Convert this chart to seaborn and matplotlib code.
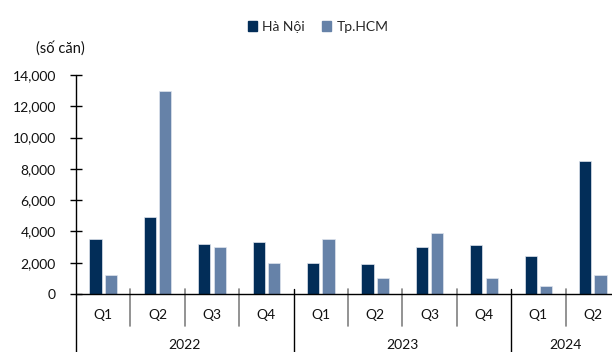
import matplotlib
matplotlib.use("Agg")
import matplotlib.pyplot as plt
import seaborn as sns
import pandas as pd
from matplotlib.lines import Line2D
from matplotlib.ticker import FuncFormatter

# Quarterly counts of units (số căn), 2022 Q1 – 2024 Q2
years = ["2022", "2023", "2024"]
quarters_per_year = [4, 4, 2]
quarters = ["Q1", "Q2", "Q3", "Q4", "Q1", "Q2", "Q3", "Q4", "Q1", "Q2"]
ha_noi = [3500, 4950, 3200, 3300, 2000, 1900, 3000, 3150, 2400, 8500]
tp_hcm = [1200, 13000, 3000, 2000, 3500, 1000, 3900, 1000, 500, 1200]
series_names = ["Hà Nội", "Tp.HCM"]
y_ticks = [0, 2000, 4000, 6000, 8000, 10000, 12000, 14000]

sns.set_style("white")
plt.rcParams["font.family"] = ["Lato", "DejaVu Sans"]

periods = [f"{i}" for i in range(len(quarters))]
df = pd.DataFrame({
    "period": periods * 2,
    "value": ha_noi + tp_hcm,
    "city": [series_names[0]] * len(periods) + [series_names[1]] * len(periods),
})

palette = {series_names[0]: "#022D58", series_names[1]: "#6682A8"}

fig = plt.figure(figsize=(6.12, 3.52), dpi=100)
ax = fig.add_axes([76 / 612, 1 - 294 / 352, 544 / 612, 219 / 352])

sns.barplot(data=df, x="period", y="value", hue="city", order=periods,
            hue_order=series_names, palette=palette, width=0.56, gap=0.2,
            edgecolor="#dfe5ee", linewidth=0.5, saturation=1, ax=ax,
            legend=False)

ax.set_xlim(-0.5, len(periods) - 0.5)
ax.set_ylim(0, 14000)
ax.set_yticks(y_ticks)
ax.yaxis.set_major_formatter(FuncFormatter(lambda v, _: f"{int(v):,}"))
ax.tick_params(axis="y", direction="inout", length=8, width=1, color="black",
               labelsize=10, pad=10.5, left=True, labelcolor="#111111")
ax.set_xticks([])
ax.set_xlabel("")
ax.set_ylabel("")
for s in ["top", "right"]:
    ax.spines[s].set_visible(False)
ax.spines["bottom"].set_color("black")
ax.spines["bottom"].set_linewidth(1)
ax.spines["left"].set_visible(False)

# y axis line running from the top tick down through the category rows
trans = ax.get_xaxis_transform()
bottom_px = 352
def ax_y(py):
    return (294 - py) / 219

ax.add_line(Line2D([-0.5, -0.5], [1.0, ax_y(bottom_px)], transform=trans,
                   color="black", lw=1, clip_on=False))

# quarter labels and separators
start = 0
year_bounds = []
for n in quarters_per_year:
    year_bounds.append((start - 0.5, start + n - 0.5))
    start += n
year_edges = {b[0] for b in year_bounds} | {b[1] for b in year_bounds}

for i, q in enumerate(quarters):
    ax.text(i, ax_y(315), q, transform=trans, ha="center", va="center",
            fontsize=10, color="#111111")
for i in range(len(quarters) - 1):
    edge = i + 0.5
    if edge in year_edges:
        ax.add_line(Line2D([edge, edge], [ax_y(289), ax_y(bottom_px)],
                           transform=trans, color="black", lw=1, clip_on=False))
    else:
        ax.add_line(Line2D([edge, edge], [ax_y(289), ax_y(326)],
                           transform=trans, color="#808080", lw=1.2, clip_on=False))

# year labels centred on their quarter groups
for (lo, hi), yr in zip(year_bounds, years):
    ax.text((lo + hi) / 2, ax_y(345), yr, transform=trans, ha="center",
            va="center", fontsize=10, color="#111111")

fig.text(36 / 612, 1 - 48 / 352, "(số căn)", ha="left", va="center",
         fontsize=10.5, color="#111111")

handles = [plt.Rectangle((0, 0), 1, 1, color=palette[n]) for n in series_names]
fig.legend(handles, series_names, loc="center", bbox_to_anchor=(318 / 612, 1 - 27 / 352),
           ncol=2, frameon=False, fontsize=10, handlelength=0.7, handleheight=0.7,
           handletextpad=0.35, columnspacing=1.2)

fig.savefig("out.png", dpi=100)
